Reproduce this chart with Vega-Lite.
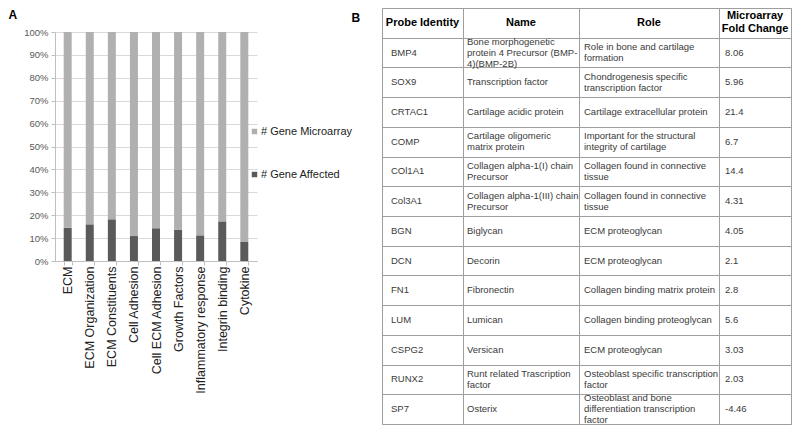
{
  "$schema": "https://vega.github.io/schema/vega-lite/v6.json",
  "padding": {"left": 8, "top": 7, "right": 0, "bottom": 0},
  "background": "white",
  "config": {
    "font": "Liberation Sans",
    "view": {"stroke": null}
  },
  "datasets": {
    "bars": [
      {"category": "ECM", "series": "# Gene Affected", "pct": 14.5},
      {"category": "ECM", "series": "# Gene Microarray", "pct": 85.5},
      {"category": "ECM Organization", "series": "# Gene Affected", "pct": 16.0},
      {"category": "ECM Organization", "series": "# Gene Microarray", "pct": 84.0},
      {"category": "ECM Constituents", "series": "# Gene Affected", "pct": 18.2},
      {"category": "ECM Constituents", "series": "# Gene Microarray", "pct": 81.8},
      {"category": "Cell Adhesion", "series": "# Gene Affected", "pct": 10.9},
      {"category": "Cell Adhesion", "series": "# Gene Microarray", "pct": 89.1},
      {"category": "Cell ECM Adhesion", "series": "# Gene Affected", "pct": 14.3},
      {"category": "Cell ECM Adhesion", "series": "# Gene Microarray", "pct": 85.7},
      {"category": "Growth Factors", "series": "# Gene Affected", "pct": 13.7},
      {"category": "Growth Factors", "series": "# Gene Microarray", "pct": 86.3},
      {"category": "Inflammatory response", "series": "# Gene Affected", "pct": 11.2},
      {"category": "Inflammatory response", "series": "# Gene Microarray", "pct": 88.8},
      {"category": "Integrin binding", "series": "# Gene Affected", "pct": 17.3},
      {"category": "Integrin binding", "series": "# Gene Microarray", "pct": 82.7},
      {"category": "Cytokine", "series": "# Gene Affected", "pct": 8.3},
      {"category": "Cytokine", "series": "# Gene Microarray", "pct": 91.7}
    ],
    "cells": [
      {"r": "hdr", "c": "Probe Identity", "t": "Probe Identity"},
      {"r": "hdr", "c": "Name", "t": "Name"},
      {"r": "hdr", "c": "Role", "t": "Role"},
      {"r": "hdr", "c": "Fold", "t": "Microarray\nFold Change"},
      {"r": "BMP4", "c": "Probe Identity", "t": "BMP4"},
      {"r": "BMP4", "c": "Name", "t": "Bone morphogenetic\nprotein 4 Precursor (BMP-\n4)(BMP-2B)"},
      {"r": "BMP4", "c": "Role", "t": "Role in bone and cartilage\nformation"},
      {"r": "BMP4", "c": "Fold", "t": "8.06"},
      {"r": "SOX9", "c": "Probe Identity", "t": "SOX9"},
      {"r": "SOX9", "c": "Name", "t": "Transcription factor"},
      {"r": "SOX9", "c": "Role", "t": "Chondrogenesis specific\ntranscription factor"},
      {"r": "SOX9", "c": "Fold", "t": "5.96"},
      {"r": "CRTAC1", "c": "Probe Identity", "t": "CRTAC1"},
      {"r": "CRTAC1", "c": "Name", "t": "Cartilage acidic protein"},
      {"r": "CRTAC1", "c": "Role", "t": "Cartilage extracellular protein"},
      {"r": "CRTAC1", "c": "Fold", "t": "21.4"},
      {"r": "COMP", "c": "Probe Identity", "t": "COMP"},
      {"r": "COMP", "c": "Name", "t": "Cartilage oligomeric\nmatrix protein"},
      {"r": "COMP", "c": "Role", "t": "Important for the structural\nintegrity of cartilage"},
      {"r": "COMP", "c": "Fold", "t": "6.7"},
      {"r": "COl1A1", "c": "Probe Identity", "t": "COl1A1"},
      {"r": "COl1A1", "c": "Name", "t": "Collagen alpha-1(I) chain\nPrecursor"},
      {"r": "COl1A1", "c": "Role", "t": "Collagen found in connective\ntissue"},
      {"r": "COl1A1", "c": "Fold", "t": "14.4"},
      {"r": "Col3A1", "c": "Probe Identity", "t": "Col3A1"},
      {"r": "Col3A1", "c": "Name", "t": "Collagen alpha-1(III) chain\nPrecursor"},
      {"r": "Col3A1", "c": "Role", "t": "Collagen found in connective\ntissue"},
      {"r": "Col3A1", "c": "Fold", "t": "4.31"},
      {"r": "BGN", "c": "Probe Identity", "t": "BGN"},
      {"r": "BGN", "c": "Name", "t": "Biglycan"},
      {"r": "BGN", "c": "Role", "t": "ECM proteoglycan"},
      {"r": "BGN", "c": "Fold", "t": "4.05"},
      {"r": "DCN", "c": "Probe Identity", "t": "DCN"},
      {"r": "DCN", "c": "Name", "t": "Decorin"},
      {"r": "DCN", "c": "Role", "t": "ECM proteoglycan"},
      {"r": "DCN", "c": "Fold", "t": "2.1"},
      {"r": "FN1", "c": "Probe Identity", "t": "FN1"},
      {"r": "FN1", "c": "Name", "t": "Fibronectin"},
      {"r": "FN1", "c": "Role", "t": "Collagen binding matrix protein"},
      {"r": "FN1", "c": "Fold", "t": "2.8"},
      {"r": "LUM", "c": "Probe Identity", "t": "LUM"},
      {"r": "LUM", "c": "Name", "t": "Lumican"},
      {"r": "LUM", "c": "Role", "t": "Collagen binding proteoglycan"},
      {"r": "LUM", "c": "Fold", "t": "5.6"},
      {"r": "CSPG2", "c": "Probe Identity", "t": "CSPG2"},
      {"r": "CSPG2", "c": "Name", "t": "Versican"},
      {"r": "CSPG2", "c": "Role", "t": "ECM proteoglycan"},
      {"r": "CSPG2", "c": "Fold", "t": "3.03"},
      {"r": "RUNX2", "c": "Probe Identity", "t": "RUNX2"},
      {"r": "RUNX2", "c": "Name", "t": "Runt related Trascription\nfactor"},
      {"r": "RUNX2", "c": "Role", "t": "Osteoblast specific transcription\nfactor"},
      {"r": "RUNX2", "c": "Fold", "t": "2.03"},
      {"r": "SP7", "c": "Probe Identity", "t": "SP7"},
      {"r": "SP7", "c": "Name", "t": "Osterix"},
      {"r": "SP7", "c": "Role", "t": "Osteoblast and bone\ndifferentiation transcription\nfactor"},
      {"r": "SP7", "c": "Fold", "t": "-4.46"}
    ]
  },
  "spacing": 28,
  "hconcat": [
    {
      "width": 267,
      "height": 253,
      "view": {"stroke": null},
      "data": {"name": "bars"},
      "mark": {"type": "bar"},
      "encoding": {
        "x": {
          "field": "category", "type": "nominal", "sort": null,
          "scale": {"range": [0, 202], "paddingInner": 0.638, "paddingOuter": 0.394},
          "axis": {"title": null, "labelAngle": -90, "labelFontSize": 12.5, "labelColor": "#222222", "labelPadding": 1, "tickSize": 4, "tickColor": "#bfbfbf", "tickBand": "extent", "domainColor": "#bfbfbf", "labelLimit": 200}
        },
        "y": {
          "field": "pct", "type": "quantitative", "stack": "normalize",
          "scale": {"domain": [0, 1], "range": [253, 24]},
          "axis": {"title": "A", "titleAngle": 0, "titleX": -47, "titleY": 10, "titleAlign": "left", "titleBaseline": "alphabetic", "titleFontSize": 12, "titleFontWeight": "bold", "titleColor": "#000000", "format": ".0%", "values": [0, 0.1, 0.2, 0.3, 0.4, 0.5, 0.6, 0.7, 0.8, 0.9, 1], "labelFontSize": 9.5, "labelColor": "#595959", "gridColor": "#d9d9d9", "domainColor": "#bfbfbf", "tickColor": "#bfbfbf", "tickSize": 4, "labelPadding": 3}
        },
        "color": {
          "field": "series", "type": "nominal",
          "scale": {"domain": ["# Gene Microarray", "# Gene Affected"], "range": ["#b0b0b0", "#5a5a5a"]},
          "legend": {"orient": "none", "legendX": 194, "legendY": 118, "title": null, "symbolType": "square", "symbolSize": 30, "labelFontSize": 11, "labelColor": "#222222", "rowPadding": 31, "labelOffset": 1, "padding": 0, "symbolStrokeWidth": 0}
        },
        "order": {"field": "series", "sort": "ascending"}
      }
    },
    {
      "spacing": 0,
      "bounds": "flush",
      "hconcat": [
        {
          "width": 81, "height": 416,
          "view": {"stroke": "#9e9e9e"},
          "data": {"name": "cells"},
          "transform": [{"filter": "datum.c === 'Probe Identity'"}],
          "encoding": {
            "y": {"field": "r", "type": "nominal", "scale": {"domain": ["hdr", "BMP4", "SOX9", "CRTAC1", "COMP", "COl1A1", "Col3A1", "BGN", "DCN", "FN1", "LUM", "CSPG2", "RUNX2", "SP7"], "paddingInner": 0, "paddingOuter": 0}, "axis": {"title": "B", "titleAngle": 0, "titleX": -31, "titleY": 13, "titleAlign": "left", "titleBaseline": "alphabetic", "titleFontSize": 12, "titleFontWeight": "bold", "titleColor": "#000000", "labels": false, "ticks": false, "domain": false, "grid": true, "tickBand": "extent", "gridColor": "#9e9e9e"}},
            "text": {"field": "t"}
          },
          "layer": [
            {
              "transform": [{"filter": "datum.r !== 'hdr'"}],
              "mark": {"type": "text", "align": "left", "dx": 9, "fontSize": 9.5, "lineBreak": "\n", "lineHeight": 11, "color": "#3a3a3a"},
              "encoding": {"x": {"field": "c", "type": "nominal", "bandPosition": 0, "scale": {"type": "band", "paddingInner": 0, "paddingOuter": 0}, "axis": null}}
            },
            {
              "transform": [{"filter": "datum.r === 'hdr'"}],
              "mark": {"type": "text", "align": "center", "fontSize": 11, "fontWeight": "bold", "lineBreak": "\n", "lineHeight": 13, "color": "#000000"},
              "encoding": {"x": {"field": "c", "type": "nominal", "bandPosition": 0.5, "scale": {"type": "band", "paddingInner": 0, "paddingOuter": 0}, "axis": null}}
            }
          ]
        },
        {
          "width": 116, "height": 416,
          "view": {"stroke": "#9e9e9e"},
          "data": {"name": "cells"},
          "transform": [{"filter": "datum.c === 'Name'"}],
          "encoding": {
            "y": {"field": "r", "type": "nominal", "scale": {"domain": ["hdr", "BMP4", "SOX9", "CRTAC1", "COMP", "COl1A1", "Col3A1", "BGN", "DCN", "FN1", "LUM", "CSPG2", "RUNX2", "SP7"], "paddingInner": 0, "paddingOuter": 0}, "axis": {"title": null, "labels": false, "ticks": false, "domain": false, "grid": true, "tickBand": "extent", "gridColor": "#9e9e9e", "minExtent": 0, "maxExtent": 0}},
            "text": {"field": "t"}
          },
          "layer": [
            {
              "transform": [{"filter": "datum.r !== 'hdr' && length(split(datum.t, '\\n')) === 1"}],
              "mark": {"type": "text", "align": "left", "dx": 4, "fontSize": 9.5, "lineBreak": "\n", "lineHeight": 11, "color": "#3a3a3a"},
              "encoding": {"x": {"field": "c", "type": "nominal", "bandPosition": 0, "scale": {"type": "band", "paddingInner": 0, "paddingOuter": 0}, "axis": null}}
            },
            {
              "transform": [{"filter": "datum.r !== 'hdr' && length(split(datum.t, '\\n')) === 2"}],
              "mark": {"type": "text", "align": "left", "dx": 4, "dy": -5.5, "fontSize": 9.5, "lineBreak": "\n", "lineHeight": 11, "color": "#3a3a3a"},
              "encoding": {"x": {"field": "c", "type": "nominal", "bandPosition": 0, "scale": {"type": "band", "paddingInner": 0, "paddingOuter": 0}, "axis": null}}
            },
            {
              "transform": [{"filter": "datum.r !== 'hdr' && length(split(datum.t, '\\n')) === 3"}],
              "mark": {"type": "text", "align": "left", "dx": 4, "dy": -11, "fontSize": 9.5, "lineBreak": "\n", "lineHeight": 11, "color": "#3a3a3a"},
              "encoding": {"x": {"field": "c", "type": "nominal", "bandPosition": 0, "scale": {"type": "band", "paddingInner": 0, "paddingOuter": 0}, "axis": null}}
            },
            {
              "transform": [{"filter": "datum.r === 'hdr'"}],
              "mark": {"type": "text", "align": "center", "fontSize": 11, "fontWeight": "bold", "lineBreak": "\n", "lineHeight": 13, "color": "#000000"},
              "encoding": {"x": {"field": "c", "type": "nominal", "bandPosition": 0.5, "scale": {"type": "band", "paddingInner": 0, "paddingOuter": 0}, "axis": null}}
            }
          ]
        },
        {
          "width": 140, "height": 416,
          "view": {"stroke": "#9e9e9e"},
          "data": {"name": "cells"},
          "transform": [{"filter": "datum.c === 'Role'"}],
          "encoding": {
            "y": {"field": "r", "type": "nominal", "scale": {"domain": ["hdr", "BMP4", "SOX9", "CRTAC1", "COMP", "COl1A1", "Col3A1", "BGN", "DCN", "FN1", "LUM", "CSPG2", "RUNX2", "SP7"], "paddingInner": 0, "paddingOuter": 0}, "axis": {"title": null, "labels": false, "ticks": false, "domain": false, "grid": true, "tickBand": "extent", "gridColor": "#9e9e9e", "minExtent": 0, "maxExtent": 0}},
            "text": {"field": "t"}
          },
          "layer": [
            {
              "transform": [{"filter": "datum.r !== 'hdr' && length(split(datum.t, '\\n')) === 1"}],
              "mark": {"type": "text", "align": "left", "dx": 5, "fontSize": 9.5, "lineBreak": "\n", "lineHeight": 11, "color": "#3a3a3a"},
              "encoding": {"x": {"field": "c", "type": "nominal", "bandPosition": 0, "scale": {"type": "band", "paddingInner": 0, "paddingOuter": 0}, "axis": null}}
            },
            {
              "transform": [{"filter": "datum.r !== 'hdr' && length(split(datum.t, '\\n')) === 2"}],
              "mark": {"type": "text", "align": "left", "dx": 5, "dy": -5.5, "fontSize": 9.5, "lineBreak": "\n", "lineHeight": 11, "color": "#3a3a3a"},
              "encoding": {"x": {"field": "c", "type": "nominal", "bandPosition": 0, "scale": {"type": "band", "paddingInner": 0, "paddingOuter": 0}, "axis": null}}
            },
            {
              "transform": [{"filter": "datum.r !== 'hdr' && length(split(datum.t, '\\n')) === 3"}],
              "mark": {"type": "text", "align": "left", "dx": 5, "dy": -11, "fontSize": 9.5, "lineBreak": "\n", "lineHeight": 11, "color": "#3a3a3a"},
              "encoding": {"x": {"field": "c", "type": "nominal", "bandPosition": 0, "scale": {"type": "band", "paddingInner": 0, "paddingOuter": 0}, "axis": null}}
            },
            {
              "transform": [{"filter": "datum.r === 'hdr'"}],
              "mark": {"type": "text", "align": "center", "fontSize": 11, "fontWeight": "bold", "lineBreak": "\n", "lineHeight": 13, "color": "#000000"},
              "encoding": {"x": {"field": "c", "type": "nominal", "bandPosition": 0.5, "scale": {"type": "band", "paddingInner": 0, "paddingOuter": 0}, "axis": null}}
            }
          ]
        },
        {
          "width": 72, "height": 416,
          "view": {"stroke": "#9e9e9e"},
          "data": {"name": "cells"},
          "transform": [{"filter": "datum.c === 'Fold'"}],
          "encoding": {
            "y": {"field": "r", "type": "nominal", "scale": {"domain": ["hdr", "BMP4", "SOX9", "CRTAC1", "COMP", "COl1A1", "Col3A1", "BGN", "DCN", "FN1", "LUM", "CSPG2", "RUNX2", "SP7"], "paddingInner": 0, "paddingOuter": 0}, "axis": {"title": null, "labels": false, "ticks": false, "domain": false, "grid": true, "tickBand": "extent", "gridColor": "#9e9e9e", "minExtent": 0, "maxExtent": 0}},
            "text": {"field": "t"}
          },
          "layer": [
            {
              "transform": [{"filter": "datum.r !== 'hdr'"}],
              "mark": {"type": "text", "align": "left", "dx": 6, "fontSize": 9.5, "lineBreak": "\n", "lineHeight": 11, "color": "#3a3a3a"},
              "encoding": {"x": {"field": "c", "type": "nominal", "bandPosition": 0, "scale": {"type": "band", "paddingInner": 0, "paddingOuter": 0}, "axis": null}}
            },
            {
              "transform": [{"filter": "datum.r === 'hdr'"}],
              "mark": {"type": "text", "align": "center", "dy": -6.5, "fontSize": 11, "fontWeight": "bold", "lineBreak": "\n", "lineHeight": 13, "color": "#000000"},
              "encoding": {"x": {"field": "c", "type": "nominal", "bandPosition": 0.5, "scale": {"type": "band", "paddingInner": 0, "paddingOuter": 0}, "axis": null}}
            }
          ]
        }
      ]
    }
  ]
}
